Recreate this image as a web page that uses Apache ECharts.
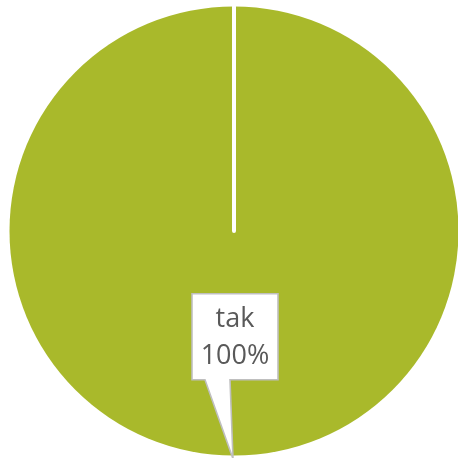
<!DOCTYPE html>
<html>
<head>
<meta charset="utf-8">
<script src="https://cdn.jsdelivr.net/npm/echarts@6/dist/echarts.min.js"></script>
<style>
html,body{margin:0;padding:0;background:#fff;}
#chart{width:458px;height:458px;}
</style>
</head>
<body>
<div id="chart"></div>
<script>
var categories = ['tak'];
var values = [100];
var colors = ['#A9B92B'];

var calloutSvg = "<svg xmlns='http://www.w3.org/2000/svg' width='88' height='167' viewBox='0 0 88 167'>" +
  "<path d='M1 1H87V87H39L42 166L14 87H1Z' fill='#ffffff' stroke='#BFBFBF' stroke-width='1.6' stroke-linejoin='miter'/></svg>";
var calloutUrl = 'data:image/svg+xml;charset=utf-8,' + encodeURIComponent(calloutSvg);

var pieData = categories.map(function (c, i) {
  return { name: c, value: values[i], itemStyle: { color: colors[i] } };
});
// boundary edge of the slice (start/end line)
pieData.push({
  name: '', value: 0,
  itemStyle: { color: 'rgba(0,0,0,0)', borderColor: '#ffffff', borderWidth: 4 },
  label: { show: false }, labelLine: { show: false }
});

var txt = { color: '#595959', fontFamily: 'Open Sans', fontSize: 27, lineHeight: 37, align: 'center', width: 88 };

var chart = echarts.init(document.getElementById('chart'));
chart.setOption({
  backgroundColor: '#ffffff',
  animation: false,
  series: [{
    type: 'pie',
    center: [234, 231],
    radius: [0, 224.5],
    startAngle: 90,
    clockwise: true,
    avoidLabelOverlap: false,
    emphasis: { disabled: true },
    data: pieData,
    label: {
      show: true,
      position: 'inside',
      offset: [1, 30],
      formatter: function (p) { return '{a|' + p.name + '}\n{a|' + Math.round(p.percent) + '%}\n{s| }'; },
      rich: {
        a: txt,
        s: { fontSize: 10, height: 85, lineHeight: 85, width: 88 }
      },
      width: 88,
      align: 'center',
      padding: [8, 0, 0, 0],
      backgroundColor: { image: calloutUrl }
    },
    labelLine: { show: false }
  }]
});
</script>
</body>
</html>
